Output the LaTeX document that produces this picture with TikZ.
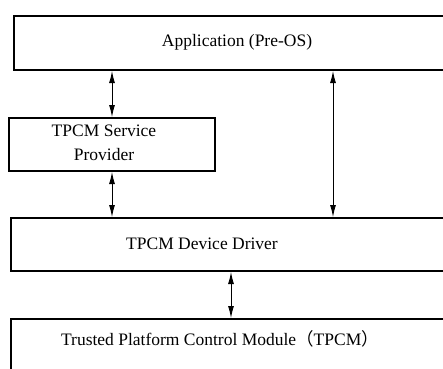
\documentclass[tikz,border=0pt]{standalone}
\usepackage{fontspec}
\setmainfont{Liberation Serif}
\newfontfamily\cjk{Noto Sans CJK SC}
\usetikzlibrary{arrows.meta}

\begin{document}
\begin{tikzpicture}[x=1pt,y=-1pt,
        blk/.style={draw,line width=2pt,inner sep=0pt,anchor=north west},
        lbl/.style={font=\fontsize{17.5}{24}\selectfont,align=center},
        arr/.style={{Latex[length=12pt,width=6pt]}-{Latex[length=12pt,width=6pt]},line width=0.9pt}]
                \useasboundingbox (0,0) rectangle (443,368);
                \clip (0,0) rectangle (443,368);

                \node[blk,minimum width=440pt,minimum height=54pt] (app) at (13,15) {};
                \node[blk,minimum width=206pt,minimum height=53pt] (svc) at (8,117) {};
                \node[blk,minimum width=442pt,minimum height=53pt] (drv) at (10,217) {};
                \node[blk,minimum width=442pt,minimum height=70pt] (tpcm) at (10,318) {};

                \node[lbl] (appt) at (237,42) {Application (Pre-OS)};
                \node[lbl] (svct) at (104,143) {TPCM Service\\Provider};
                \node[lbl] (drvt) at (202,244) {TPCM Device Driver};
                \node[lbl] (tpcmt) at (220,339) {Trusted Platform Control Module{\cjk（}TPCM{\cjk）}};

                \coordinate (l) at (112,0);
                \coordinate (r) at (333,0);
                \coordinate (b) at (231,0);

                \draw[arr] (l |- app.south) -- (l |- svc.north);
                \draw[arr] (l |- svc.south) -- (l |- drv.north);
                \draw[arr] (r |- app.south) -- (r |- drv.north);
                \draw[arr] (b |- drv.south) -- (b |- tpcm.north);
            \end{tikzpicture}
\end{document}
